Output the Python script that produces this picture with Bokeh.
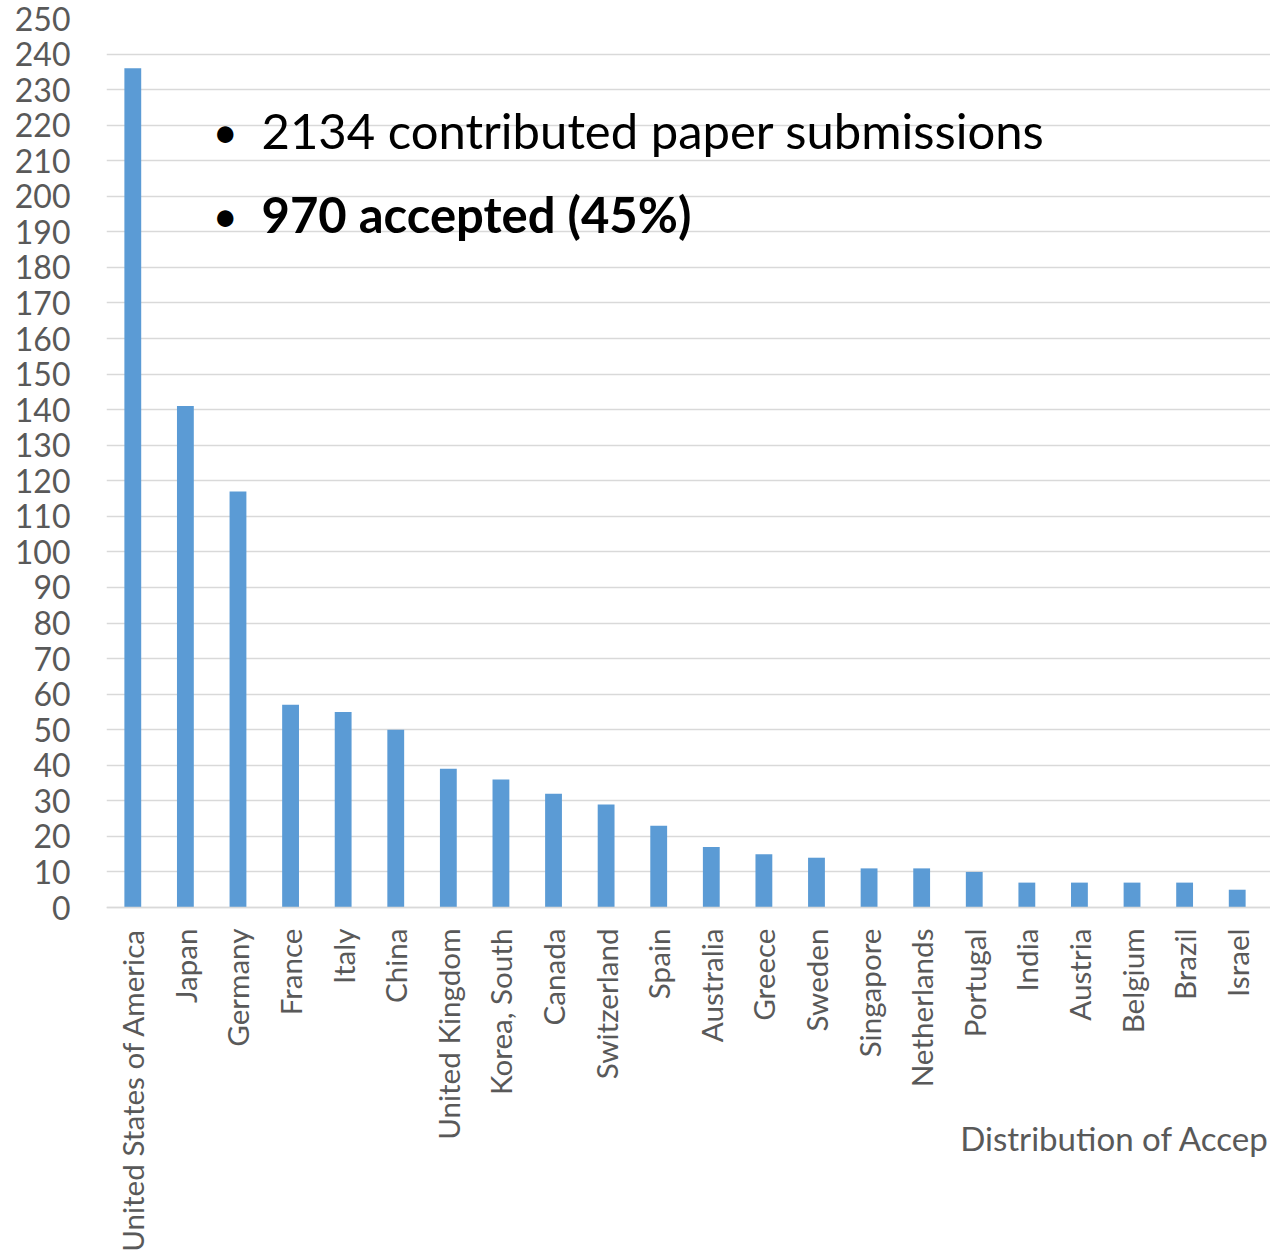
import math
from bokeh.plotting import figure
from bokeh.models import Range1d, FixedTicker, Label, ColumnDataSource
from bokeh.embed import file_html
from bokeh.resources import INLINE

countries = ["United States of America", "Japan", "Germany", "France", "Italy", "China",
             "United Kingdom", "Korea, South", "Canada", "Switzerland", "Spain", "Australia",
             "Greece", "Sweden", "Singapore", "Netherlands", "Portugal", "India", "Austria",
             "Belgium", "Brazil", "Israel"]
accepted = [236, 141, 117, 57, 55, 50, 39, 36, 32, 29, 23, 17, 15, 14, 11, 11, 10, 7, 7, 7, 7, 5]
y_ticks = list(range(0, 251, 10))
note_line1 = "2134 contributed paper submissions"
note_line2 = "970 accepted (45%)"
axis_title = "Distribution of Accep"

FONT = "Lato"
GRAY = "#595959"
GRID = "#d9d9d9"
BAR = "#5b9bd5"

W, H = 1270, 1251
LEFT, TOP = 106, 18
ZERO_Y = 907            # page row of the value 0
Y_MAX = 250
# frame runs to the bottom of the page; the x axis sits at value 0 inside it
y_min = Y_MAX - Y_MAX * (H - TOP) / (ZERO_Y - TOP)

idx = list(range(len(countries)))
src = ColumnDataSource(dict(x=idx, top=accepted, name=countries))

p = figure(width=W, height=H, output_backend="svg", toolbar_location=None,
           x_range=Range1d(-0.5, len(countries) - 0.5 + 0.133), y_range=Range1d(y_min, Y_MAX),
           min_border_left=LEFT, min_border_right=0, min_border_top=TOP, min_border_bottom=0)
p.outline_line_color = None
p.background_fill_color = "white"
p.border_fill_color = "white"

p.vbar(x="x", top="top", width=0.32, source=src, fill_color=BAR, line_color=None)

# y axis
p.yaxis.ticker = FixedTicker(ticks=y_ticks)
p.yaxis.axis_line_color = None
p.yaxis.major_tick_line_color = None
p.yaxis.minor_tick_line_color = None
p.yaxis.major_tick_out = 0
p.yaxis.major_tick_in = 0
p.yaxis.major_label_standoff = 36
p.yaxis.major_label_text_font = FONT
p.yaxis.major_label_text_font_size = "32px"
p.yaxis.major_label_text_color = GRAY

# x axis
p.xaxis.fixed_location = 0
p.xaxis.ticker = FixedTicker(ticks=idx)
p.xaxis.major_label_overrides = {i: c for i, c in zip(idx, countries)}
p.xaxis.major_label_orientation = math.pi / 2
p.xaxis.axis_line_color = GRID
p.xaxis.axis_line_width = 1.5
p.xaxis.major_tick_line_color = None
p.xaxis.minor_tick_line_color = None
p.xaxis.major_tick_out = 0
p.xaxis.major_tick_in = 0
p.xaxis.major_label_standoff = 21
p.xaxis.major_label_text_font = FONT
p.xaxis.major_label_text_font_size = "29.6px"
p.xaxis.major_label_text_color = GRAY

p.xgrid.grid_line_color = None
p.ygrid.grid_line_color = GRID
p.ygrid.grid_line_width = 1.5

# screen positions below are relative to the plot frame (left, bottom)
def fy(page_y):
    return H - page_y

for page_y, txt, style in [(129, note_line1, "normal"), (213, note_line2, "bold")]:
    p.add_layout(Label(x=212 - LEFT, y=fy(page_y + 1), x_units="screen", y_units="screen",
                       text="\u2022", text_font=FONT, text_font_size="44px", text_color="black",
                       text_baseline="middle", text_align="left"))
    p.add_layout(Label(x=261 - LEFT, y=fy(page_y), x_units="screen", y_units="screen",
                       text=txt, text_font=FONT, text_font_size="49px", text_color="black",
                       text_font_style=style, text_baseline="middle", text_align="left"))

p.add_layout(Label(x=W - 1 - LEFT, y=fy(1137), x_units="screen", y_units="screen",
                   text=axis_title, text_font=FONT, text_font_size="33.1px", text_color=GRAY,
                   text_baseline="middle", text_align="right"))

open("out.html", "w").write(file_html(p, INLINE))
